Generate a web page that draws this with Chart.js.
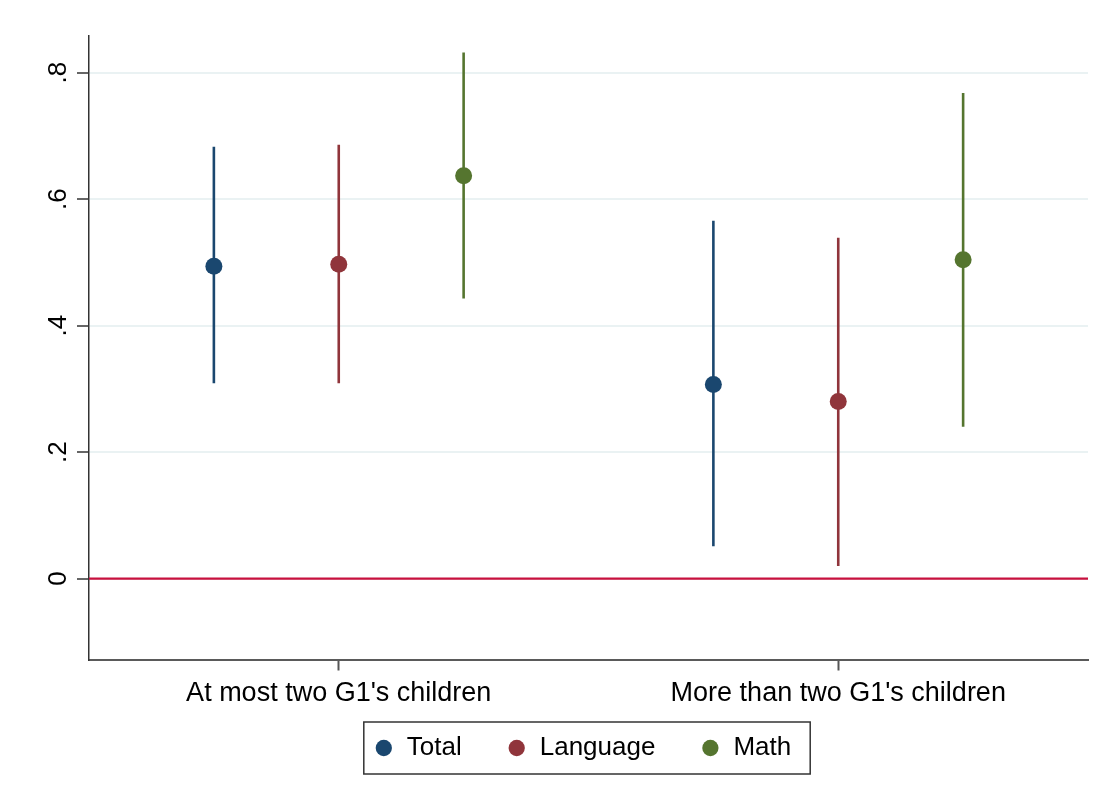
<!DOCTYPE html>
<html>
<head>
<meta charset="utf-8">
<script src="https://cdn.jsdelivr.net/npm/chart.js@4.4.0/dist/chart.umd.min.js"></script>
<style>
html,body{margin:0;padding:0;background:#fff;}
#wrap{width:1108px;height:807px;}
</style>
</head>
<body>
<div id="wrap"><canvas id="c" width="1108" height="807"></canvas></div>
<script>
// ---- data ----
const categories = ["At most two G1's children", "More than two G1's children"];
const seriesNames = ["Total", "Language", "Math"];
const totalEst = [0.494, 0.307];
const totalLo = [0.309, 0.051];
const totalHi = [0.683, 0.566];
const languageEst = [0.497, 0.280];
const languageLo = [0.309, 0.020];
const languageHi = [0.686, 0.539];
const mathEst = [0.637, 0.504];
const mathLo = [0.443, 0.240];
const mathHi = [0.832, 0.768];
const yTickValues = [0, 0.2, 0.4, 0.6, 0.8];
const yTickLabels = ["0", ".2", ".4", ".6", ".8"];
const yMin = -0.128, yMax = 0.858;
const referenceLine = 0;

// ---- styling ----
const colors = ["#1a476f", "#90353b", "#55752f"];
const offsets = [-0.25, 0, 0.25];
const FONT = "'Liberation Sans', Arial, Helvetica, sans-serif";
const LEGEND_PAD = 45;
Chart.defaults.font.family = FONT;
Chart.defaults.font.size = 26;
Chart.defaults.color = '#000';

const est = [totalEst, languageEst, mathEst];
const lo = [totalLo, languageLo, mathLo];
const hi = [totalHi, languageHi, mathHi];

const datasets = [];
// point datasets (drawn on top, used in legend)
seriesNames.forEach((name, s) => {
  datasets.push({
    label: name,
    data: categories.map((c, g) => ({x: g + 1 + offsets[s], y: est[s][g]})),
    backgroundColor: colors[s],
    borderColor: colors[s],
    borderWidth: 0,
    pointRadius: 8.5,
    pointHoverRadius: 8.5,
    pointStyle: 'circle',
    showLine: false
  });
});
// CI segments
seriesNames.forEach((name, s) => {
  categories.forEach((c, g) => {
    datasets.push({
      label: name + ' CI',
      data: [{x: g + 1 + offsets[s], y: lo[s][g]}, {x: g + 1 + offsets[s], y: hi[s][g]}],
      borderColor: colors[s],
      backgroundColor: colors[s],
      borderWidth: 2.6,
      pointRadius: 0,
      showLine: true,
      borderCapStyle: 'butt'
    });
  });
});
// reference line at 0
datasets.push({
  label: 'zero',
  data: [{x: 0.5, y: referenceLine}, {x: 2.5, y: referenceLine}],
  borderColor: '#c8103e',
  borderWidth: 2.2,
  pointRadius: 0,
  showLine: true
});

// move legend up closer to the axis labels and draw its frame
const legendTweak = {
  id: 'legendTweak',
  afterLayout(chart) {
    const lg = chart.legend;
    if (!lg) return;
    const targetTop = chart.chartArea.bottom + 88.5 - 13 - LEGEND_PAD;
    const dy = lg.top - targetTop;
    lg.top -= dy; lg.bottom -= dy;
    lg.left -= 6; lg.right -= 6;
  },
  afterDraw(chart) {
    const hb = chart.legend && chart.legend.legendHitBoxes;
    if (!hb || !hb.length) return;
    const first = hb[0], last = hb[hb.length - 1];
    const left = first.left - 10;
    const right = last.left + last.width + 19;
    const top = first.top - 13;
    const bottom = first.top + first.height + 13;
    const ctx = chart.ctx;
    ctx.save();
    ctx.strokeStyle = '#333';
    ctx.lineWidth = 1.5;
    ctx.strokeRect(left, top, right - left, bottom - top);
    ctx.restore();
  }
};

new Chart(document.getElementById('c'), {
  type: 'scatter',
  data: {datasets},
  options: {
    responsive: false,
    animation: false,
    devicePixelRatio: 1,
    layout: {padding: {top: 36, right: 20, left: 0, bottom: 12.5}},
    plugins: {
      tooltip: {enabled: false},
      legend: {
        position: 'bottom',
        fullSize: false,
        labels: {
          usePointStyle: true,
          pointStyle: 'circle',
          boxWidth: 20,
          boxHeight: 11.5,
          padding: LEGEND_PAD,
          font: {size: 26, family: FONT},
          color: '#000',
          filter: (item) => item.datasetIndex < seriesNames.length
        }
      }
    },
    scales: {
      x: {
        type: 'linear',
        min: 0.5,
        max: 2.5,
        afterBuildTicks: (scale) => { scale.ticks = categories.map((c, i) => ({value: i + 1})); },
        afterFit: (scale) => { scale.height = 54; },
        ticks: {
          autoSkip: false,
          maxRotation: 0,
          minRotation: 0,
          padding: 7,
          color: '#000',
          font: {size: 27, family: FONT},
          callback: (v) => categories[Math.round(v) - 1]
        },
        grid: {
          drawOnChartArea: false,
          drawTicks: true,
          tickLength: 11,
          tickColor: '#555',
          tickWidth: 2
        },
        border: {display: true, color: '#5a5a5a', width: 2}
      },
      y: {
        type: 'linear',
        min: yMin,
        max: yMax,
        afterBuildTicks: (scale) => { scale.ticks = yTickValues.map(v => ({value: v})); },
        afterFit: (scale) => { scale.width = 89; },
        ticks: {
          minRotation: 90,
          maxRotation: 90,
          crossAlign: 'center',
          padding: 7,
          color: '#000',
          font: {size: 26, family: FONT},
          callback: (v, i) => yTickLabels[i]
        },
        grid: {
          color: '#eaf2f3',
          lineWidth: 2,
          drawTicks: true,
          tickLength: 12,
          tickColor: '#333',
          tickWidth: 1.5
        },
        border: {display: true, color: '#333', width: 1.5}
      }
    }
  },
  plugins: [legendTweak]
});
</script>
</body>
</html>
